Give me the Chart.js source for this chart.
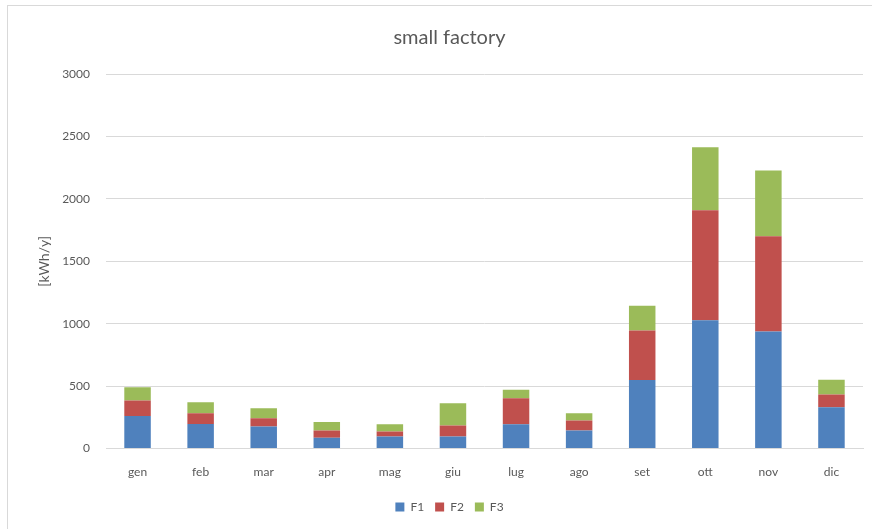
<!DOCTYPE html>
<html>
<head>
<meta charset="utf-8">
<script src="https://cdn.jsdelivr.net/npm/chart.js@4.4.1/dist/chart.umd.min.js"></script>
<style>
    body { margin: 0; background: #fff; }
    #wrap { position: relative; width: 872px; height: 529px; overflow: hidden; }
    #frame { position: absolute; left: 7px; top: 5px; width: 900px; height: 600px; border-top: 1px solid #d9d9d9; border-left: 1px solid #d9d9d9; }
    canvas { position: absolute; left: 0; top: 0; }
</style>
</head>
<body>
<div id="wrap">
    <div id="frame"></div>
    <canvas id="chart" width="872" height="529"></canvas>
</div>
<script>
// Data
const months = ['gen', 'feb', 'mar', 'apr', 'mag', 'giu', 'lug', 'ago', 'set', 'ott', 'nov', 'dic'];
const f1 = [262, 198, 176, 86, 96, 96, 195, 145, 550, 1027, 937, 331];
const f2 = [123, 85, 67, 58, 40, 88, 208, 80, 396, 882, 763, 102];
const f3 = [107, 88, 80, 70, 59, 179, 68, 58, 198, 505, 527, 118];
const yTicks = [0, 500, 1000, 1500, 2000, 2500, 3000];

const textColor = '#595959';
const gridColor = '#d9d9d9';
const fontFamily = 'Lato, "Open Sans", sans-serif';

const ctx = document.getElementById('chart').getContext('2d');

new Chart(ctx, {
    type: 'bar',
    data: {
        labels: months,
        datasets: [
            { label: 'F1', data: f1, backgroundColor: '#4f81bd' },
            { label: 'F2', data: f2, backgroundColor: '#c0504d' },
            { label: 'F3', data: f3, backgroundColor: '#9bbb59' }
        ]
    },
    options: {
        responsive: false,
        animation: false,
        layout: { padding: { top: 26, right: 9, left: 36, bottom: 6 } },
        datasets: {
            bar: { categoryPercentage: 1, barPercentage: 0.42 }
        },
        plugins: {
            title: {
                display: true,
                text: 'small factory',
                color: textColor,
                font: { family: fontFamily, size: 20, weight: 'normal' },
                padding: { top: 0, bottom: 24 }
            },
            legend: {
                position: 'bottom',
                labels: {
                    color: textColor,
                    font: { family: fontFamily, size: 12 },
                    boxWidth: 9,
                    boxHeight: 9,
                    padding: 11
                }
            },
            tooltip: { enabled: false }
        },
        scales: {
            x: {
                stacked: true,
                grid: { display: false },
                border: { display: true, color: gridColor },
                afterFit: function (scale) {
                    scale.height += 3;
                },
                ticks: { color: textColor, font: { family: fontFamily, size: 12 }, padding: 8 }
            },
            y: {
                stacked: true,
                min: 0,
                max: 3000,
                afterBuildTicks: function (scale) {
                    scale.ticks = yTicks.map(v => ({ value: v }));
                },
                afterFit: function (scale) {
                    scale.width = 70;
                },
                grid: { color: gridColor, drawTicks: false },
                border: { display: false },
                title: {
                    display: true,
                    text: '[kWh/y]',
                    color: textColor,
                    font: { family: fontFamily, size: 14 },
                    padding: { top: 0, bottom: 0 }
                },
                ticks: {
                    color: textColor,
                    font: { family: fontFamily, size: 12 },
                    padding: 16,
                    callback: v => String(v)
                }
            }
        }
    }
});
</script>
</body>
</html>
